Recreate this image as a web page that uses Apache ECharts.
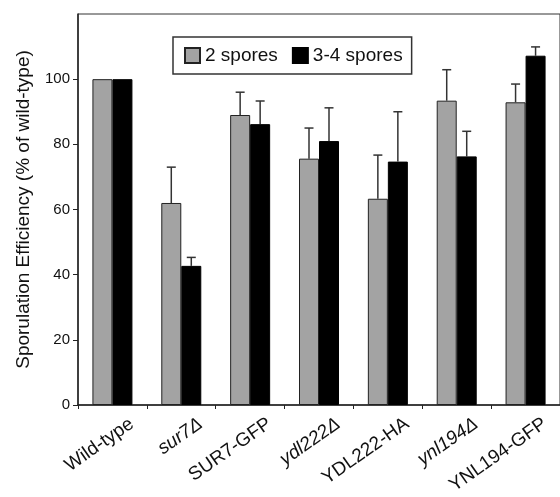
<!DOCTYPE html>
<html>
<head>
<meta charset="utf-8">
<script src="https://cdn.jsdelivr.net/npm/echarts@6/dist/echarts.min.js"></script>
<style>html,body{margin:0;padding:0;background:#fff;}#c{width:560px;height:497px;}</style>
</head>
<body>
<div id="c"></div>
<script>
const categories = ['Wild-type', 'sur7Δ', 'SUR7-GFP', 'ydl222Δ', 'YDL222-HA', 'ynl194Δ', 'YNL194-GFP'];
const italicCats = [false, true, false, true, false, true, false];
const seriesNames = ['2 spores', '3-4 spores'];
const twoSpores = [100, 62, 89, 75.6, 63.3, 93.4, 92.9];
const twoSporesErr = [0, 11, 7, 9.4, 13.4, 9.5, 5.6];
const threeFourSpores = [100, 42.7, 86.2, 81, 74.7, 76.3, 107.2];
const threeFourSporesErr = [0, 2.6, 7.1, 10.2, 15.3, 7.7, 2.7];
const yTicks = [0, 20, 40, 60, 80, 100];

const chart = echarts.init(document.getElementById('c'));
const font = 'Liberation Sans, Arial, sans-serif';
const BAR_W = 20;

function errData(vals, errs) {
  return vals.map((v, i) => [i, v, v + errs[i]]);
}
function errRender(offset) {
  return function (params, api) {
    const i = api.value(0);
    const top = api.value(2);
    const base = api.value(1);
    if (top <= base) return null;
    const p0 = api.coord([i, base]);
    const p1 = api.coord([i, top]);
    const x = p0[0] + offset;
    const cap = 4.5;
    return {
      type: 'group',
      children: [
        { type: 'line', shape: { x1: x, y1: p0[1], x2: x, y2: p1[1] }, style: { stroke: '#333', lineWidth: 1.5 } },
        { type: 'line', shape: { x1: x - cap, y1: p1[1], x2: x + cap, y2: p1[1] }, style: { stroke: '#333', lineWidth: 1.5 } }
      ]
    };
  };
}

chart.setOption({
  animation: false,
  backgroundColor: '#fff',
  grid: { left: 78, top: 14, right: -8, bottom: 92, show: true, borderColor: '#333', borderWidth: 1, backgroundColor: 'transparent' },
  legend: {
    data: seriesNames,
    left: 173, top: 37,
    padding: [9, 9, 9, 11],
    borderColor: '#333', borderWidth: 1.5,
    icon: 'rect',
    itemWidth: 15, itemHeight: 15, itemGap: 14,
    textStyle: { fontFamily: font, fontSize: 19, color: '#111' }
  },
  xAxis: {
    type: 'category',
    data: categories,
    axisLine: { lineStyle: { color: '#222', width: 1.5 } },
    axisTick: { show: true, length: 4, lineStyle: { color: '#222' } },
    axisLabel: {
      rotate: 35,
      margin: 19,
      interval: 0,
      verticalAlign: 'top',
      padding: [0, -17, 0, 0],
      fontFamily: font, fontSize: 19, color: '#111',
      formatter: function (v, i) { return italicCats[i] ? '{it|' + v + '}' : v; },
      rich: { it: { fontStyle: 'italic', fontFamily: font, fontSize: 19, color: '#111' } }
    }
  },
  yAxis: {
    type: 'value',
    min: 0, max: 120, interval: 20,
    name: 'Sporulation Efficiency (% of wild-type)',
    nameLocation: 'middle',
    nameGap: 45,
    nameTextStyle: { fontFamily: font, fontSize: 19, color: '#111' },
    splitLine: { show: false },
    axisLine: { show: true, lineStyle: { color: '#222', width: 1.5 } },
    axisTick: { show: true, length: 5, customValues: yTicks, lineStyle: { color: '#222' } },
    axisLabel: { customValues: yTicks, fontFamily: font, fontSize: 15, color: '#111', margin: 8 }
  },
  series: [
    { name: seriesNames[0], type: 'bar', data: twoSpores, barWidth: BAR_W, barGap: '0%',
      itemStyle: { color: '#a3a3a3', borderColor: '#222', borderWidth: 1 } },
    { name: seriesNames[1], type: 'bar', data: threeFourSpores, barWidth: BAR_W, barGap: '0%',
      itemStyle: { color: '#000', borderColor: '#000', borderWidth: 1 } },
    { type: 'custom', data: errData(twoSpores, twoSporesErr), renderItem: errRender(-BAR_W / 2), encode: { x: 0, y: [1, 2] }, z: 1 },
    { type: 'custom', data: errData(threeFourSpores, threeFourSporesErr), renderItem: errRender(BAR_W / 2), encode: { x: 0, y: [1, 2] }, z: 1 }
  ]
});
</script>
</body>
</html>
